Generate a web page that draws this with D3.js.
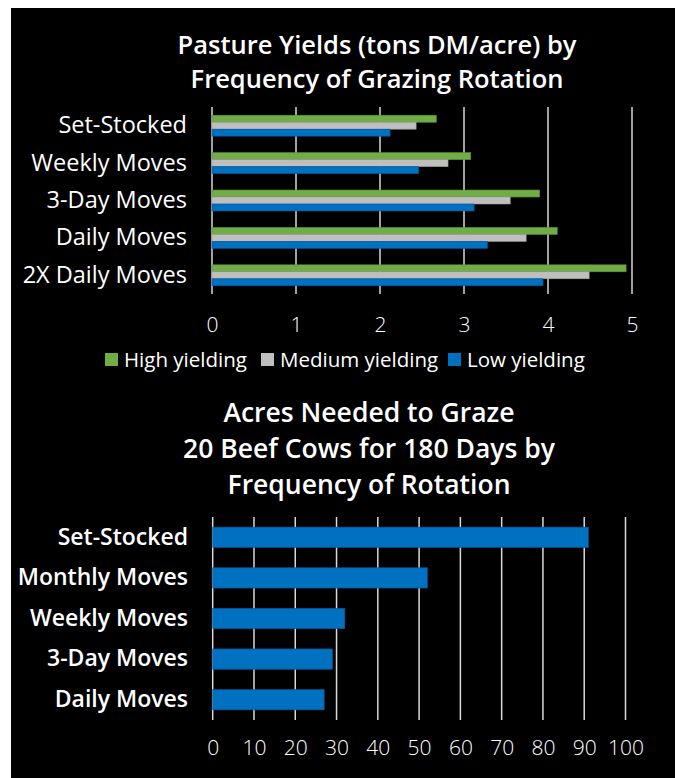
<!DOCTYPE html>
<html><head><meta charset="utf-8">
<script src="https://cdn.jsdelivr.net/npm/d3@7/dist/d3.min.js"></script>
<style>
html,body{margin:0;padding:0;background:#fff;}
svg{display:block;}
</style></head>
<body>
<script>
// ---- Data ----
const topCategories = ["Set-Stocked", "Weekly Moves", "3-Day Moves", "Daily Moves", "2X Daily Moves"];
const seriesNames = ["High yielding", "Medium yielding", "Low yielding"];
const highYielding = [2.67, 3.08, 3.90, 4.11, 4.93];
const mediumYielding = [2.43, 2.81, 3.55, 3.74, 4.49];
const lowYielding = [2.12, 2.46, 3.12, 3.28, 3.94];
const topTicks = [0, 1, 2, 3, 4, 5];

const bottomCategories = ["Set-Stocked", "Monthly Moves", "Weekly Moves", "3-Day Moves", "Daily Moves"];
const acresNeeded = [91, 52, 32, 29, 27];
const bottomTicks = [0, 10, 20, 30, 40, 50, 60, 70, 80, 90, 100];

const colors = ["#70AD47", "#BFBFBF", "#0070C0"];
const strokes = ["#5E9139", "#9E9E9E", "#005A9C"];

const W = 675, H = 778;
const svg = d3.select("body").append("svg").attr("width", W).attr("height", H);
svg.append("rect").attr("x", 11).attr("y", 8).attr("width", W - 11).attr("height", H - 8).attr("fill", "#000");

const fontA = "'Open Sans', 'Noto Sans', sans-serif";

// ---- Top chart ----
const title1 = svg.append("text").attr("text-anchor", "middle")
  .attr("fill", "#fff").style("font-family", fontA).style("font-size", "25.5px").style("font-weight", 600);
title1.append("tspan").attr("x", 377).attr("y", 54).text("Pasture Yields (tons DM/acre) by");
title1.append("tspan").attr("x", 377).attr("y", 88).text("Frequency of Grazing Rotation");

const x1 = d3.scaleLinear().domain([0, 5]).range([212, 632]);
const y1 = d3.scaleBand().domain(topCategories).range([107, 294]).paddingInner(0.44).paddingOuter(0.22);
const ySub = d3.scaleBand().domain(seriesNames).range([0, y1.bandwidth()]);

const g1 = svg.append("g");
g1.selectAll("line.grid").data(topTicks).join("line")
  .attr("x1", d => x1(d)).attr("x2", d => x1(d)).attr("y1", 107).attr("y2", 294)
  .attr("stroke", "#D9D9D9").attr("stroke-width", 1.5);

const seriesData = [highYielding, mediumYielding, lowYielding];
seriesData.forEach((vals, si) => {
  g1.selectAll("rect.s" + si).data(vals).join("rect")
    .attr("x", x1(0)).attr("y", (d, i) => y1(topCategories[i]) + ySub(seriesNames[si]))
    .attr("width", d => x1(d) - x1(0)).attr("height", ySub.bandwidth())
    .attr("fill", colors[si]).attr("stroke", strokes[si]).attr("stroke-width", 0.6);
});

const xAxis1 = d3.axisBottom(x1).tickValues(topTicks).tickSize(0).tickPadding(0).tickFormat(d3.format("d"));
const ax1 = svg.append("g").attr("transform", "translate(0,317)").call(xAxis1);
ax1.select(".domain").remove();
ax1.selectAll("text").attr("fill", "#fff").style("font-family", fontA).style("font-size", "21px").style("font-weight", 300);

const yAxis1 = d3.axisLeft(y1).tickSize(0).tickPadding(0);
const ay1 = svg.append("g").attr("transform", "translate(187,0)").call(yAxis1);
ay1.select(".domain").remove();
ay1.selectAll("text").attr("fill", "#fff").style("font-family", fontA).style("font-size", "23.5px").style("font-weight", 400);

// legend
const legend = svg.append("g");
const legX = [105, 261, 448];
seriesNames.forEach((n, i) => {
  legend.append("rect").attr("x", legX[i]).attr("y", 353).attr("width", 13).attr("height", 13).attr("fill", colors[i]);
  legend.append("text").attr("x", legX[i] + 19).attr("y", 367).attr("fill", "#fff")
    .style("font-family", fontA).style("font-size", "20.5px").text(n);
});

// ---- Bottom chart ----
const title2 = svg.append("text").attr("text-anchor", "middle").attr("fill", "#fff")
  .style("font-family", fontA).style("font-size", "26.5px").style("font-weight", 600);
[["Acres Needed to Graze", 422], ["20 Beef Cows for 180 Days by", 458], ["Frequency of Rotation", 494]].forEach(([t, y]) => {
  title2.append("tspan").attr("x", 369).attr("y", y).text(t);
});

const x2 = d3.scaleLinear().domain([0, 100]).range([212.7, 625.5]);
const y2 = d3.scaleBand().domain(bottomCategories).range([517, 720]).paddingInner(0.5).paddingOuter(0.25);

const g2 = svg.append("g");
g2.selectAll("line.grid").data(bottomTicks).join("line")
  .attr("x1", d => x2(d)).attr("x2", d => x2(d)).attr("y1", 517).attr("y2", 720)
  .attr("stroke", "#D9D9D9").attr("stroke-width", 1.5);
g2.selectAll("rect").data(acresNeeded).join("rect")
  .attr("x", x2(0)).attr("y", (d, i) => y2(bottomCategories[i]))
  .attr("width", d => x2(d) - x2(0)).attr("height", y2.bandwidth())
  .attr("fill", "#0070C0").attr("stroke", "#005A9C").attr("stroke-width", 0.6);

const xAxis2 = d3.axisBottom(x2).tickValues(bottomTicks).tickSize(0).tickPadding(0).tickFormat(d3.format("d"));
const ax2 = svg.append("g").attr("transform", "translate(0,740)").call(xAxis2);
ax2.select(".domain").remove();
ax2.selectAll("text").attr("fill", "#fff").style("font-family", fontA).style("font-size", "21px").style("font-weight", 300);

const yAxis2 = d3.axisLeft(y2).tickSize(0).tickPadding(0);
const ay2 = svg.append("g").attr("transform", "translate(188,0)").call(yAxis2);
ay2.select(".domain").remove();
ay2.selectAll("text").attr("fill", "#fff").style("font-family", fontA).style("font-size", "23px").style("font-weight", 600);
</script>
</body></html>
